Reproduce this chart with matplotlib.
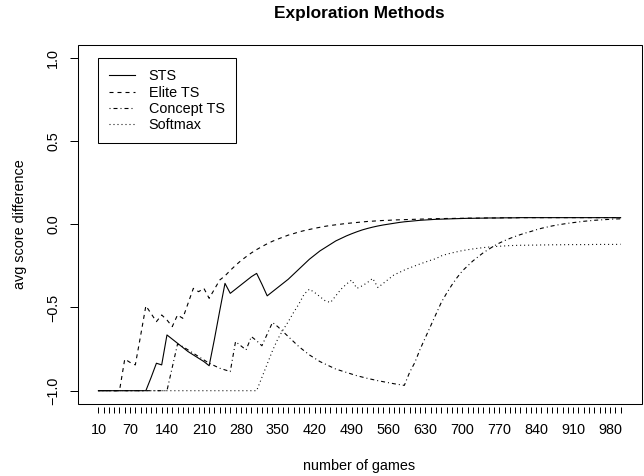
import matplotlib
matplotlib.use('Agg')
import matplotlib.pyplot as plt
from matplotlib.patches import Rectangle

plt.rcParams['font.family'] = ['Liberation Sans', 'DejaVu Sans']
plt.rcParams['lines.scale_dashes'] = False

# ---------------- data ----------------
games = list(range(10, 1001, 10))          # x categories (100 points)
shown_labels = [10, 70, 140, 210, 280, 350, 420, 490, 560, 630, 700, 770, 840, 910, 980]
yticks = [-1.0, -0.5, 0.0, 0.5, 1.0]
ytick_labels = ['\u22121.0', '\u22120.5', '0.0', '0.5', '1.0']
series_names = ['STS', 'Elite TS', 'Concept TS', 'Softmax']

sts = ([-1.0] * 10 +
       [-0.92, -0.835, -0.845, -0.665, -0.69, -0.715, -0.74, -0.765, -0.785, -0.805,
        -0.825, -0.85, -0.69, -0.52, -0.355, -0.415, -0.39, -0.365, -0.34, -0.315,
        -0.295, -0.36, -0.43, -0.405, -0.38, -0.355, -0.33, -0.30, -0.27, -0.24,
        -0.21, -0.185, -0.16, -0.14, -0.12, -0.10, -0.085, -0.07, -0.057, -0.045,
        -0.034, -0.025, -0.017, -0.01, -0.004, 0.001, 0.006, 0.011, 0.015, 0.018,
        0.021, 0.024, 0.026, 0.028, 0.03, 0.031, 0.032, 0.033, 0.034, 0.035,
        0.036, 0.036, 0.037, 0.037, 0.038, 0.038, 0.038, 0.039, 0.039, 0.039] +
       [0.04] * 20)

elite = ([-1.0] * 5 +
         [-0.81, -0.83, -0.845, -0.67, -0.49, -0.537, -0.585, -0.545, -0.575, -0.615,
          -0.545, -0.565, -0.475, -0.385, -0.405, -0.385, -0.445, -0.39, -0.335, -0.31,
          -0.277, -0.247, -0.219, -0.195, -0.172, -0.152, -0.134, -0.117, -0.102, -0.089,
          -0.077, -0.065, -0.056, -0.046, -0.038, -0.031, -0.024, -0.018, -0.012, -0.007,
          -0.003, 0.001, 0.005, 0.008, 0.011, 0.014, 0.017, 0.019, 0.021, 0.023,
          0.024, 0.026, 0.027, 0.028, 0.029, 0.030, 0.031, 0.032, 0.033, 0.034,
          0.034, 0.035, 0.035, 0.036, 0.036, 0.037, 0.037, 0.037, 0.038, 0.038,
          0.038, 0.039, 0.039, 0.039, 0.039] +
         [0.04] * 20)

concept = ([-1.0] * 14 +
           [-0.86, -0.72, -0.735, -0.755, -0.775, -0.795, -0.815, -0.835, -0.85, -0.865,
            -0.875, -0.885, -0.705, -0.73, -0.755, -0.675, -0.70, -0.73, -0.66, -0.59,
            -0.615, -0.645, -0.675, -0.705, -0.735, -0.76, -0.785, -0.805, -0.825, -0.84,
            -0.855, -0.87, -0.88, -0.89, -0.90, -0.91, -0.918, -0.926, -0.933, -0.94,
            -0.946, -0.952, -0.958, -0.963, -0.968, -0.89, -0.83, -0.75, -0.68, -0.61,
            -0.54, -0.47, -0.415, -0.365, -0.32, -0.28, -0.25, -0.22, -0.195, -0.17,
            -0.15, -0.13, -0.113, -0.098, -0.085, -0.073, -0.062, -0.052, -0.043, -0.033,
            -0.024, -0.017, -0.01, -0.004, 0.001, 0.006, 0.01, 0.014, 0.018, 0.021,
            0.024, 0.026, 0.028, 0.03, 0.032, 0.033])

softmax = ([-1.0] * 31 +
           [-0.92, -0.84, -0.76, -0.69, -0.635, -0.585, -0.53, -0.48, -0.42, -0.39,
            -0.41, -0.435, -0.46, -0.47, -0.43, -0.39, -0.36, -0.335, -0.385, -0.37,
            -0.35, -0.325, -0.38, -0.355, -0.33, -0.305, -0.29, -0.275, -0.262, -0.25,
            -0.238, -0.227, -0.216, -0.206, -0.19, -0.18, -0.172, -0.165, -0.158, -0.153,
            -0.148, -0.144, -0.14, -0.137, -0.134, -0.132, -0.13, -0.128, -0.127, -0.126,
            -0.126, -0.125, -0.125, -0.124, -0.124, -0.123, -0.123, -0.123, -0.122, -0.122,
            -0.122, -0.122, -0.122, -0.121, -0.121, -0.121, -0.121, -0.121, -0.12])

# ---------------- figure ----------------
FS = 10.37
fig = plt.figure(figsize=(6.44, 4.76), dpi=100)
ax = fig.add_axes([77.5 / 644, 1 - 404.0 / 476, (641.5 - 77.5) / 644, (404.0 - 44.6) / 476])

idx = list(range(1, len(games) + 1))
styles = [
    dict(linestyle='-'),
    dict(dashes=(2.88, 2.88)),
    dict(dashes=(0.72, 2.16, 2.88, 2.16)),
    dict(dashes=(0.72, 2.16)),
]
for vals, name, st in zip([sts, elite, concept, softmax], series_names, styles):
    ax.plot(idx, vals, color='black', lw=0.8, label=name, **st)

ax.set_xlim(1 - 3.96, len(games) + 3.96)
ax.set_ylim(-1.08, 1.08)

for s in ax.spines.values():
    s.set_visible(False)
ax.spines['bottom'].set_position(('outward', 2))
ax.add_patch(Rectangle((0, 0), 1, 1, transform=ax.transAxes, fill=False,
                       lw=0.75, ec='black', clip_on=False, zorder=5))

ax.set_xticks(idx)
ax.set_xticklabels([str(g) if g in shown_labels else '' for g in games])
ax.tick_params(axis='x', direction='out', length=4.3, width=0.72, pad=7.5,
               labelsize=FS, colors='black')

ax.set_yticks(yticks)
ax.set_yticklabels(ytick_labels)
ax.tick_params(axis='y', direction='out', length=5.8, width=0.72, pad=6.7,
               labelsize=FS, labelrotation=90, colors='black')
plt.setp(ax.get_yticklabels(), va='center')

ax.set_title('Exploration Methods', fontsize=12.44, fontweight='bold', pad=18.9)
ax.set_xlabel('number of games', fontsize=FS, labelpad=16)
ax.set_ylabel('avg score difference', fontsize=FS, labelpad=14)

leg = ax.legend(loc='upper left', bbox_to_anchor=(98.3 / 644, 1 - 58.3 / 476),
                bbox_transform=fig.transFigure, borderaxespad=0, fontsize=FS,
                frameon=True, fancybox=False, edgecolor='black', framealpha=1,
                borderpad=0.75, labelspacing=0.17, handlelength=1.8,
                handletextpad=0.95)
leg.get_frame().set_linewidth(0.75)

fig.savefig('out.png', dpi=100)
